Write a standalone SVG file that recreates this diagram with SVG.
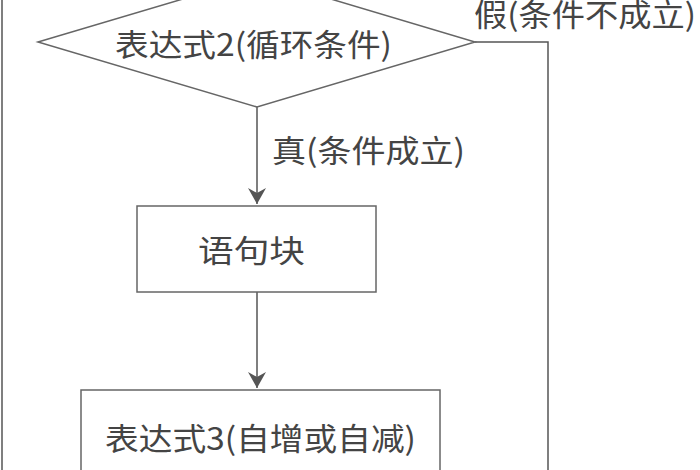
<svg xmlns="http://www.w3.org/2000/svg" width="700" height="470" viewBox="0 0 700 470">
<defs>
<marker id="ah" markerWidth="16" markerHeight="18" refX="16" refY="9" orient="auto" markerUnits="userSpaceOnUse">
<path d="M0,0 L16,9 L0,18 L5,9 Z" fill="#555"/>
</marker>
<style>
.s{fill:#fff;stroke:#666;stroke-width:1.5}
.c{fill:none;stroke:#555;stroke-width:1.5}
text{font-family:"Noto Sans CJK SC","Noto Sans",sans-serif;font-size:31px;fill:#444}
</style>
</defs>
<rect width="700" height="470" fill="#fff"/>
<g id="connectors">
<line class="c" x1="2" y1="0" x2="2" y2="470"/>
<polyline class="c" points="475,42 548,42 548,470"/>
<line class="c" x1="257" y1="107" x2="257" y2="204" marker-end="url(#ah)"/>
<line class="c" x1="257" y1="292" x2="257" y2="388" marker-end="url(#ah)"/>
<text x="474" y="26" textLength="222" lengthAdjust="spacingAndGlyphs">假(条件不成立)</text>
<text x="272" y="162" textLength="193" lengthAdjust="spacingAndGlyphs">真(条件成立)</text>
</g>
<g id="cond">
<polygon class="s" points="38,42 257,-23 475,42 257,107"/>
<text x="115" y="56" textLength="277" lengthAdjust="spacingAndGlyphs">表达式2(循环条件)</text>
</g>
<g id="block">
<rect class="s" x="137" y="206" width="239" height="86"/>
<text x="198" y="262" textLength="107" lengthAdjust="spacingAndGlyphs">语句块</text>
</g>
<g id="expr3">
<rect class="s" x="81" y="390" width="359" height="100"/>
<text x="105" y="450" textLength="311" lengthAdjust="spacingAndGlyphs">表达式3(自增或自减)</text>
</g>
</svg>
